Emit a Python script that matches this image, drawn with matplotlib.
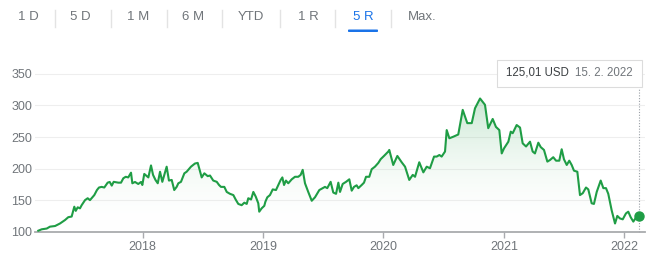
import numpy as np
import matplotlib
matplotlib.use("Agg")
import matplotlib.pyplot as plt
from matplotlib.patches import FancyBboxPatch, Rectangle
from matplotlib.colors import LinearSegmentedColormap

plt.rcParams['font.family'] = ['Liberation Sans', 'DejaVu Sans']

# ---- data (decimal years, price USD) ----
dates = [2017.133, 2017.161, 2017.203, 2017.230, 2017.272, 2017.313, 2017.355, 2017.382, 2017.410, 2017.432,
         2017.444, 2017.460, 2017.479, 2017.493, 2017.521, 2017.543, 2017.562, 2017.598, 2017.620, 2017.637,
         2017.659, 2017.681, 2017.709, 2017.726, 2017.743, 2017.759, 2017.797, 2017.820, 2017.839, 2017.859,
         2017.880, 2017.903, 2017.914, 2017.936, 2017.963, 2017.986, 2017.997, 2018.013, 2018.047, 2018.069,
         2018.086, 2018.106, 2018.125, 2018.144, 2018.163, 2018.199, 2018.218, 2018.241, 2018.262, 2018.282,
         2018.296, 2018.318, 2018.346, 2018.365, 2018.401, 2018.434, 2018.457, 2018.490, 2018.512, 2018.540,
         2018.559, 2018.586, 2018.615, 2018.634, 2018.650, 2018.678, 2018.698, 2018.725, 2018.753, 2018.772,
         2018.794, 2018.822, 2018.844, 2018.864, 2018.877, 2018.900, 2018.919, 2018.939, 2018.960, 2018.968,
         2018.988, 2019.010, 2019.019, 2019.035, 2019.057, 2019.080, 2019.107, 2019.126, 2019.146, 2019.160,
         2019.174, 2019.190, 2019.209, 2019.238, 2019.265, 2019.292, 2019.312, 2019.329, 2019.348, 2019.375,
         2019.404, 2019.431, 2019.467, 2019.495, 2019.514, 2019.533, 2019.561, 2019.583, 2019.606, 2019.625,
         2019.639, 2019.661, 2019.689, 2019.716, 2019.736, 2019.755, 2019.777, 2019.791, 2019.819, 2019.838,
         2019.855, 2019.882, 2019.902, 2019.929, 2019.957, 2019.977, 2020.004, 2020.040, 2020.048, 2020.081,
         2020.115, 2020.151, 2020.179, 2020.214, 2020.243, 2020.262, 2020.297, 2020.331, 2020.359, 2020.386,
         2020.420, 2020.442, 2020.464, 2020.483, 2020.511, 2020.525, 2020.547, 2020.580, 2020.621, 2020.658,
         2020.696, 2020.733, 2020.760, 2020.802, 2020.843, 2020.870, 2020.907, 2020.934, 2020.962, 2020.982,
         2021.001, 2021.037, 2021.057, 2021.073, 2021.106, 2021.134, 2021.156, 2021.184, 2021.217, 2021.239,
         2021.258, 2021.286, 2021.306, 2021.333, 2021.361, 2021.383, 2021.410, 2021.433, 2021.460, 2021.480,
         2021.499, 2021.522, 2021.543, 2021.563, 2021.582, 2021.610, 2021.632, 2021.655, 2021.682, 2021.701,
         2021.729, 2021.748, 2021.771, 2021.804, 2021.826, 2021.848, 2021.867, 2021.895, 2021.923, 2021.942,
         2021.964, 2021.987, 2022.014, 2022.033, 2022.053, 2022.075, 2022.103, 2022.125]
prices = [101.6, 103.8, 105, 108, 109, 113, 118.5, 123, 124, 139.6,
          133, 138.6, 137, 142, 150, 153, 150, 158, 166, 170,
          171, 170, 177.7, 178.8, 173, 179, 177.7, 177.7, 184.6, 187,
          186, 193.5, 176.7, 178.8, 175.6, 178.8, 174, 191.5, 186, 205,
          190, 182, 176.7, 195, 179, 203, 181, 182, 166, 171,
          176.7, 179, 192.5, 195, 203, 208, 209, 186, 192.5, 188,
          189, 181, 179, 174, 171, 171, 163, 160, 158, 151,
          144, 142, 146, 144, 153, 151, 163, 155.5, 145, 131.7,
          137, 141, 147.5, 154.5, 158, 167, 166, 174, 182, 186,
          174, 181, 176.7, 183, 187, 187, 190, 198, 176.7, 163,
          149, 154.5, 166, 169, 171, 169, 179, 162, 160, 177.7,
          163, 175.6, 179, 183, 165, 171, 173.5, 169, 174, 177.7,
          187, 187, 199, 203, 209, 215, 220, 227, 229.5, 205.7,
          220, 210, 203, 182, 190, 187, 210, 194, 203, 200.5,
          219, 219, 221.5, 219, 227, 261, 248, 250.5, 254, 293,
          272, 272, 295.5, 311, 301, 264, 278.6, 266, 261, 224,
          232, 242.6, 258.5, 256, 269, 265, 240, 235, 242.6, 227,
          224, 241, 234, 229.5, 211, 213.6, 218, 212.5, 212.5, 230.6,
          214.7, 205.7, 212.5, 205.7, 196.7, 195, 158, 161, 170, 167,
          145, 144, 163, 181, 169, 169, 160, 134, 113, 125,
          121, 119.6, 129, 131.7, 123, 116, 124, 125.01]
y_ticks = [100, 150, 200, 250, 300, 350]
x_ticks = [2018, 2019, 2020, 2021, 2022]
x_labels = ["2018", "2019", "2020", "2021", "2022"]
tabs = ["1 D", "5 D", "1 M", "6 M", "YTD", "1 R", "5 R", "Max."]
selected_tab = "5 R"
tip_price = "125,01 USD"
tip_date = "15. 2. 2022"

GREEN = "#1f9d45"
GRAY = "#70757a"

W, H = 650, 257
fig = plt.figure(figsize=(W / 100, H / 100), dpi=100)
fig.patch.set_facecolor("white")

def fx(px):
    return px / W

def fy(py):
    return 1 - py / H

ax = fig.add_axes([fx(35), fy(231.7), fx(610), (231.7 - 60) / H])
ax.set_xlim(2017.1055, 2022.172)
ax.set_ylim(100, 372)
for s in ax.spines.values():
    s.set_visible(False)

# grid
for yv in y_ticks[1:]:
    ax.axhline(yv, color="#eeeeee", lw=0.8, zorder=0)
ax.axhline(y_ticks[0], color="#a9abae", lw=1.3, zorder=3, clip_on=False)

# gradient fill
x = np.array(dates)
y = np.array(prices)
poly = ax.fill_between(x, y, 100, color="none", lw=0)
cmap = LinearSegmentedColormap.from_list("g", [(1, 1, 1, 0), (0.12, 0.62, 0.27, 0.26)])
grad = np.linspace(0, 1, 256).reshape(-1, 1)
im = ax.imshow(grad, extent=[x[0], x[-1], 100, 320], origin="lower", cmap=cmap,
               aspect="auto", zorder=1, interpolation="bilinear")
im.set_clip_path(poly.get_paths()[0], transform=ax.transData)
ax.set_xlim(2017.1055, 2022.172)
ax.set_ylim(100, 372)

ax.plot(x, y, color=GREEN, lw=1.5, zorder=4, solid_joinstyle="round")
ax.plot(x[-1], y[-1], "o", color=GREEN, ms=6.5, zorder=5, clip_on=False)
ax.axvline(x[-1], ymin=0, ymax=0.837, color="#9aa0a6", lw=0.8, ls=(0, (1, 1.5)), zorder=2, clip_on=False)

ax.set_yticks(y_ticks)
ax.set_yticklabels([str(v) for v in y_ticks])
ax.set_xticks(x_ticks)
ax.set_xticklabels(x_labels)
ax.tick_params(axis="y", length=0, pad=2, labelsize=9, labelcolor=GRAY)
ax.tick_params(axis="x", length=4, width=1, color="#a9abae", pad=3, labelsize=9, labelcolor=GRAY)

# tabs
tab_x = [28, 80, 138, 193, 251, 308, 363, 422]
for t, px in zip(tabs, tab_x):
    col = "#1a73e8" if t == selected_tab else GRAY
    fig.text(fx(px), fy(17.5), t, ha="center", va="center", fontsize=9.5, color=col)
for px in [55, 111, 167, 222, 280, 335, 391]:
    fig.add_artist(plt.Line2D([fx(px), fx(px)], [fy(10), fy(27)], color="#e3e3e3", lw=1))
fig.add_artist(FancyBboxPatch((fx(348), fy(32)), fx(30), 2.5 / H,
                              boxstyle="round,pad=0,rounding_size=0.002",
                              fc="#1a73e8", ec="none", transform=fig.transFigure))

# tooltip
fig.add_artist(Rectangle((fx(497.5), fy(88)), fx(144.5), 27 / H, fc="#000000", alpha=0.07,
                         ec="none", transform=fig.transFigure))
fig.add_artist(Rectangle((fx(497), fy(86.5)), fx(144.5), 26.5 / H, fc="white",
                         ec="#dcdcdc", lw=0.8, transform=fig.transFigure))
fig.text(fx(506), fy(72.5), tip_price, ha="left", va="center", fontsize=8.3, color="#3c4043")
fig.text(fx(633), fy(72.5), tip_date, ha="right", va="center", fontsize=8.3, color=GRAY)

fig.savefig("out.png", dpi=100)
